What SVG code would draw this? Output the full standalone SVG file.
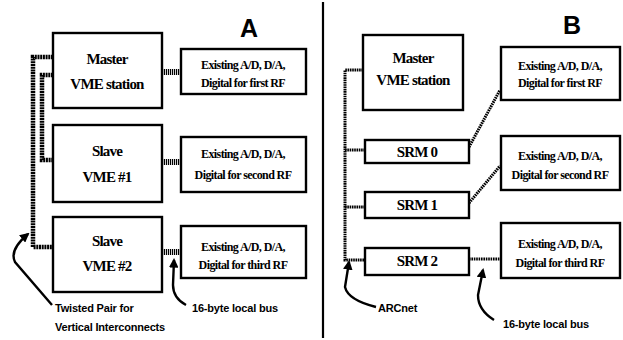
<svg xmlns="http://www.w3.org/2000/svg" width="623" height="340" viewBox="0 0 623 340">
<defs>
<style>
.box{fill:#fff;stroke:#000;stroke-width:2.4}
.t{font-family:"Liberation Serif","DejaVu Serif","Times New Roman",serif;font-weight:bold;fill:#000;text-anchor:middle}
.big{font-size:15px;letter-spacing:-0.8px}
.sm{font-size:12px;letter-spacing:-0.6px}
.lbl{font-family:"Liberation Sans",Arial,sans-serif;font-weight:bold;font-size:11px;fill:#000;letter-spacing:-0.2px}
.head{font-family:"Liberation Sans",Arial,sans-serif;font-weight:bold;font-size:25px;fill:#000;text-anchor:middle}
.tp{fill:none;stroke:#000;stroke-width:4.5;stroke-dasharray:2 0.7}
.arc{fill:none;stroke:#000;stroke-width:3;stroke-dasharray:1.6 0.7}
.bus{fill:none;stroke:#000;stroke-width:6;stroke-dasharray:1.2 0.8}
.bus2{fill:none;stroke:#000;stroke-width:3;stroke-dasharray:1.6 0.8}
.ptr{fill:none;stroke:#000;stroke-width:2.4;marker-end:url(#ah)}
</style>
<marker id="ah" viewBox="0 0 10 10" refX="8" refY="5" markerWidth="4" markerHeight="4" orient="auto">
<path d="M0,0 L10,5 L0,10 z" fill="#000"/>
</marker>
</defs>
<rect width="623" height="340" fill="#fff"/>
<line x1="323" y1="2" x2="323" y2="338" stroke="#000" stroke-width="2.2"/>
<text class="head" x="249" y="37">A</text>
<text class="head" x="572" y="34">B</text>

<g id="connectors">
<path class="tp" d="M53,57 H33 V247 H53"/>
<path class="tp" d="M53,75 H42 V160 H53"/>
<line class="bus" x1="162" y1="72" x2="181" y2="72"/>
<line class="bus" x1="162" y1="162" x2="181" y2="162"/>
<line class="bus" x1="162" y1="252" x2="181" y2="252"/>
<path class="ptr" d="M52,305 L15,262 Q9,250 28,234"/>
<path class="ptr" d="M186,305 Q173,298 173,285 L174,260"/>
<path class="arc" d="M363,70 H345 V260 H365"/>
<path class="arc" d="M345,150 H365"/>
<path class="arc" d="M345,207 H365"/>
<line class="bus2" x1="469" y1="147" x2="500" y2="90"/>
<line class="bus2" x1="469" y1="203" x2="500" y2="166"/>
<path class="bus2" d="M469,259 H500"/>
<path class="ptr" d="M376,307 Q348,300 345,287 L349,262"/>
<path class="ptr" d="M494,320 Q478,310 478,295 L483,270"/>
</g>

<g id="masterA"><rect class="box" x="53" y="33" width="109" height="75"/>
<text class="t big" x="107" y="64" font-family="Liberation Serif, serif">Master</text><text class="t big" x="107" y="89" font-family="Liberation Serif, serif">VME station</text></g>
<g id="slave1A"><rect class="box" x="53" y="125" width="109" height="77"/>
<text class="t big" x="107" y="156" font-family="Liberation Serif, serif">Slave</text><text class="t big" x="107" y="182" font-family="Liberation Serif, serif">VME #1</text></g>
<g id="slave2A"><rect class="box" x="53" y="217" width="109" height="75"/>
<text class="t big" x="107" y="246" font-family="Liberation Serif, serif">Slave</text><text class="t big" x="107" y="271" font-family="Liberation Serif, serif">VME #2</text></g>
<g id="exA1"><rect class="box" x="181" y="49" width="125" height="45"/>
<text class="t sm" x="243" y="69" font-family="Liberation Serif, serif">Existing A/D, D/A,</text><text class="t sm" x="243" y="87" font-family="Liberation Serif, serif">Digital for first RF</text></g>
<g id="exA2"><rect class="box" x="181" y="137" width="125" height="55"/>
<text class="t sm" x="243" y="158" font-family="Liberation Serif, serif">Existing A/D, D/A,</text><text class="t sm" x="243" y="179" font-family="Liberation Serif, serif">Digital for second RF</text></g>
<g id="exA3"><rect class="box" x="181" y="226" width="125" height="52"/>
<text class="t sm" x="243" y="251" font-family="Liberation Serif, serif">Existing A/D, D/A,</text><text class="t sm" x="243" y="269" font-family="Liberation Serif, serif">Digital for third RF</text></g>
<g id="labelsA">
<text class="lbl" x="55" y="312">Twisted Pair for</text>
<text class="lbl" x="55" y="331">Vertical Interconnects</text>
<text class="lbl" x="192" y="312">16-byte local bus</text>
</g>

<g id="masterB"><rect class="box" x="363" y="35" width="100" height="75"/>
<text class="t big" x="413" y="63" font-family="Liberation Serif, serif">Master</text><text class="t big" x="413" y="85" font-family="Liberation Serif, serif">VME station</text></g>
<g id="srm0"><rect class="box" x="365" y="140" width="104" height="23"/>
<text class="t big" x="417" y="157" font-family="Liberation Serif, serif">SRM 0</text></g>
<g id="srm1"><rect class="box" x="365" y="192" width="104" height="26"/>
<text class="t big" x="417" y="210" font-family="Liberation Serif, serif">SRM 1</text></g>
<g id="srm2"><rect class="box" x="365" y="248" width="104" height="27"/>
<text class="t big" x="417" y="266" font-family="Liberation Serif, serif">SRM 2</text></g>
<g id="exB1"><rect class="box" x="501" y="47" width="119" height="53"/>
<text class="t sm" x="560" y="70" font-family="Liberation Serif, serif">Existing A/D, D/A,</text><text class="t sm" x="560" y="87" font-family="Liberation Serif, serif">Digital for first RF</text></g>
<g id="exB2"><rect class="box" x="501" y="136" width="119" height="54"/>
<text class="t sm" x="560" y="160" font-family="Liberation Serif, serif">Existing A/D, D/A,</text><text class="t sm" x="560" y="179" font-family="Liberation Serif, serif">Digital for second RF</text></g>
<g id="exB3"><rect class="box" x="501" y="223" width="119" height="55"/>
<text class="t sm" x="560" y="248" font-family="Liberation Serif, serif">Existing A/D, D/A,</text><text class="t sm" x="560" y="267" font-family="Liberation Serif, serif">Digital for third RF</text></g>
<g id="labelsB">
<text class="lbl" x="378" y="312">ARCnet</text>
<text class="lbl" x="503" y="328">16-byte local bus</text>
</g>
</svg>
